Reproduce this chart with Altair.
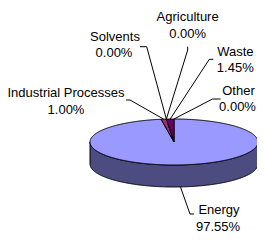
import math
import altair as alt
import pandas as pd

# ---- data ----
categories = ["Energy", "Industrial Processes", "Solvents", "Agriculture", "Waste", "Other"]
shares = [97.55, 1.00, 0.00, 0.00, 1.45, 0.00]
pct_labels = ["97.55%", "1.00%", "0.00%", "0.00%", "1.45%", "0.00%"]

# ---- styles ----
top_colors = ["#9999FF", "#993366", "#FFFFCC", "#CCFFFF", "#660066", "#FF8080"]
side_colors = ["#4C4C80", "#4D1A33", "#808066", "#668080", "#330033", "#804040"]
FONT = "Liberation Sans"

# ---- layout (page pixels) ----
W, H = 249, 227
CX, CY, RX, RY, DEPTH = 174.0, 142.0, 84.0, 23.0, 22.0
# centre of first label line
label_xy = {
    "Energy": (219.0, 210.0),
    "Industrial Processes": (66.0, 93.0),
    "Solvents": (115.0, 36.7),
    "Agriculture": (187.6, 17.0),
    "Waste": (235.3, 51.7),
    "Other": (238.5, 90.7),
}
LINE_GAP = 16.5
# leader line: start point near label, elbow point
leader_pts = {
    "Energy": [(194.0, 214.0), (190.0, 214.0)],
    "Industrial Processes": [(126.0, 100.0), (130.0, 100.0)],
    "Solvents": [(140.0, 46.7), (146.7, 46.7)],
    "Agriculture": [(187.7, 46.7), (187.7, 50.0)],
    "Waste": [(213.3, 59.3), (209.3, 59.3)],
    "Other": [(220.5, 99.0), (212.5, 99.0)],
}


def ell(theta, dy=0.0):
    t = math.radians(theta)
    return CX + RX * math.sin(t), CY - RY * math.cos(t) + dy


# angles, clockwise from 12 o'clock
starts, ends = [], []
acc = 0.0
for s in shares:
    starts.append(acc / 100 * 360)
    acc += s
    ends.append(acc / 100 * 360)

rows = []
keys, key_colors = [], []
for i, name in enumerate(categories):
    a, b = starts[i], ends[i]
    # side (front half only)
    sa, sb = max(a, 90.0), min(b, 270.0)
    if sb > sa:
        key = name + "|side"
        keys.append(key)
        key_colors.append(side_colors[i])
        n = max(2, int((sb - sa) * 2))
        pts = [ell(sa + (sb - sa) * k / n) for k in range(n + 1)]
        pts += [ell(sb - (sb - sa) * k / n, DEPTH) for k in range(n + 1)]
        pts.append(pts[0])
        for j, (x, y) in enumerate(pts):
            rows.append({"key": key, "i": j, "x": x, "y": y})
for i, name in enumerate(categories):
    a, b = starts[i], ends[i]
    if b > a:
        key = name + "|top"
        keys.append(key)
        key_colors.append(top_colors[i])
        n = max(2, int((b - a) * 2))
        pts = [(CX, CY)] + [ell(a + (b - a) * k / n) for k in range(n + 1)] + [(CX, CY)]
        for j, (x, y) in enumerate(pts):
            rows.append({"key": key, "i": j, "x": x, "y": y})
poly_df = pd.DataFrame(rows)

# leader lines
lrows = []
for i, name in enumerate(categories):
    mid = (starts[i] + ends[i]) / 2
    front = 90.0 < mid < 270.0
    anchor = ell(mid, DEPTH if front else 0.0)
    pts = leader_pts[name] + [anchor]
    for j, (x, y) in enumerate(pts):
        lrows.append({"name": name, "i": j, "x": x, "y": y})
lead_df = pd.DataFrame(lrows)

# labels
trows = []
for i, name in enumerate(categories):
    x, y = label_xy[name]
    trows.append({"t": name, "x": x, "y": y})
    trows.append({"t": pct_labels[i], "x": x - (1.0 if name in ("Energy", "Other", "Solvents") else 0.0), "y": y + LINE_GAP})
text_df = pd.DataFrame(trows)

xs = alt.Scale(domain=[8, 8 + W], nice=False, zero=False)
ys = alt.Scale(domain=[8, 8 + H], nice=False, zero=False, reverse=True)
X = alt.X("x:Q", scale=xs, axis=None)
Y = alt.Y("y:Q", scale=ys, axis=None)

polys = alt.Chart(poly_df).mark_line(stroke="black", strokeWidth=1, strokeJoin="round").encode(
    x=X, y=Y,
    detail="key:N",
    order="i:Q",
    fill=alt.Fill("key:N", scale=alt.Scale(domain=keys, range=key_colors), legend=None),
)

leads = alt.Chart(lead_df).mark_line(stroke="black", strokeWidth=1).encode(
    x=X, y=Y, detail="name:N", order="i:Q"
)

texts = alt.Chart(text_df).mark_text(
    font=FONT, fontSize=13, color="black", align="center", baseline="middle"
).encode(x=X, y=Y, text="t:N")

chart = alt.layer(polys, leads, texts).properties(
    width=W, height=H, padding=0, autosize=alt.AutoSizeParams(type="none")
).configure_view(stroke=None)

chart.save("out.html", embed_options={"renderer": "svg", "actions": False})
